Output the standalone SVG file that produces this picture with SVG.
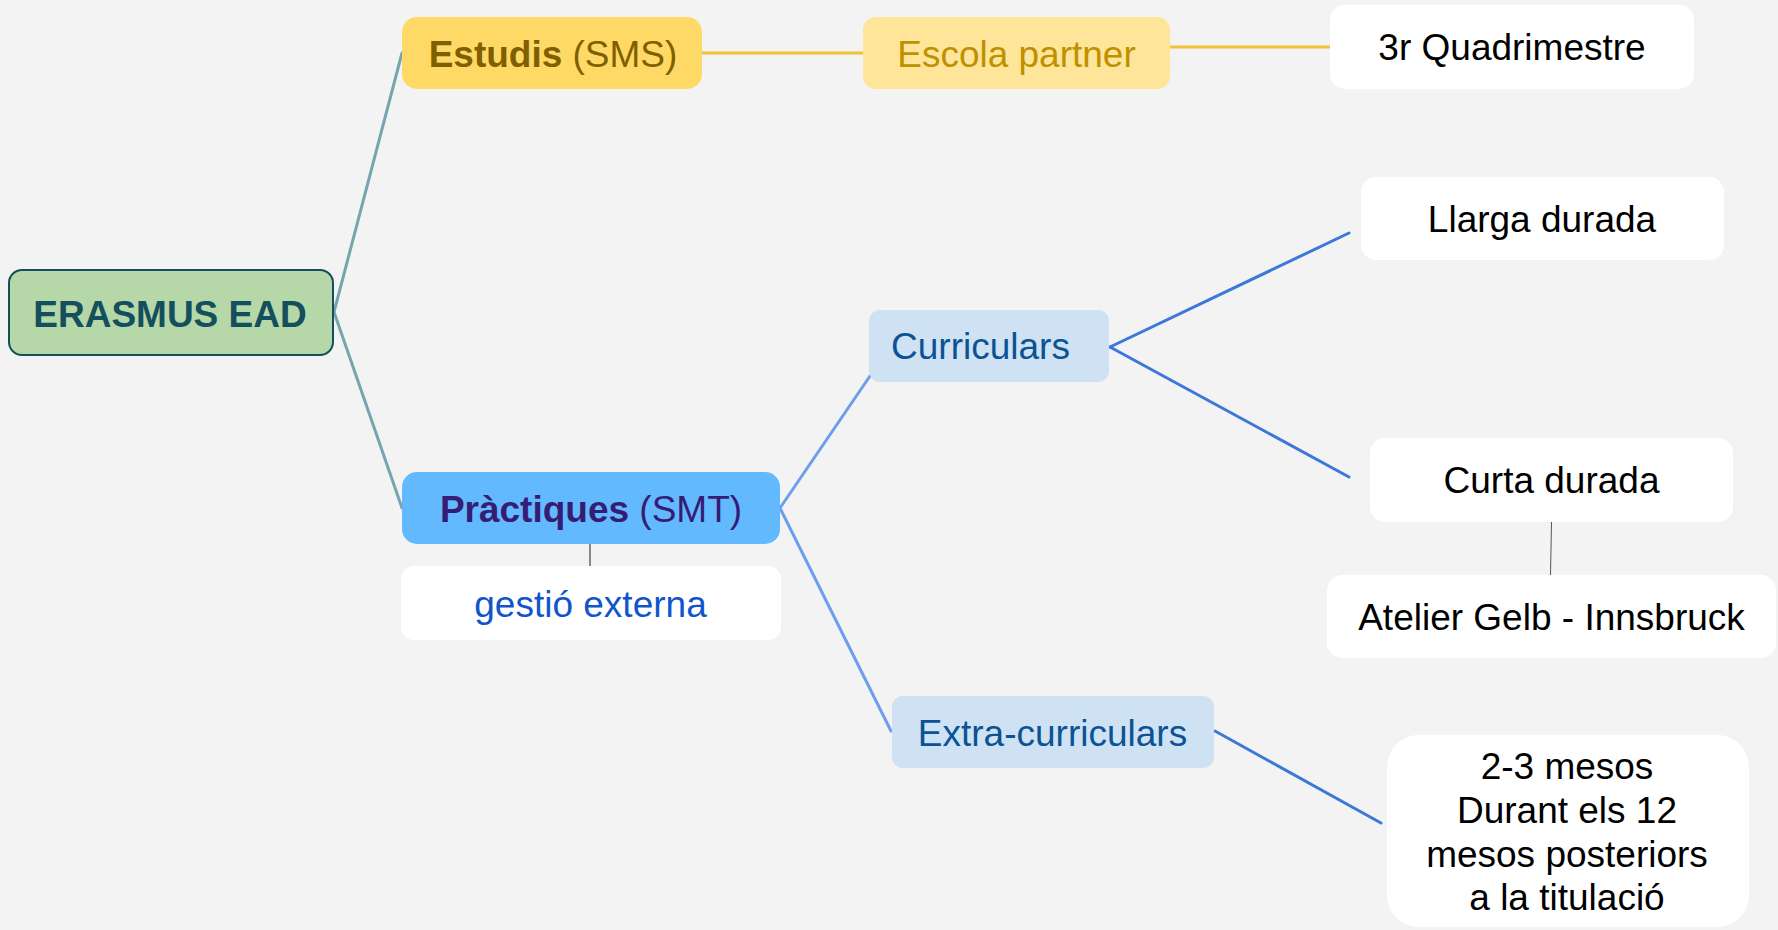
<svg xmlns="http://www.w3.org/2000/svg" width="1778" height="930" viewBox="0 0 1778 930">
<style>
text{font-family:"Liberation Sans",Arial,sans-serif;font-size:37px;text-anchor:middle}
.b{font-weight:bold}
.w{fill:#ffffff}
.k{fill:#000000}
.c{fill:none;stroke-width:3;stroke-linecap:round}
</style>
<rect width="1778" height="930" fill="#f3f3f3"/>
<g id="connectors">
<path class="c" stroke="#76a5af" d="M334,312 L402,53"/>
<path class="c" stroke="#76a5af" d="M334,312 L402,508"/>
<path class="c" stroke="#f1c232" d="M702,53 L863,53"/>
<path class="c" stroke="#f1c232" d="M1170,47 L1330,47"/>
<path class="c" stroke="#6d9eeb" d="M780,508 L870,376"/>
<path class="c" stroke="#6d9eeb" d="M780,508 L891,731"/>
<path class="c" stroke="#3c78d8" d="M1110,347 L1349,233"/>
<path class="c" stroke="#3c78d8" d="M1110,347 L1349,477"/>
<path class="c" stroke="#3c78d8" d="M1215,731 L1381,823"/>
<path fill="none" stroke="#666666" stroke-width="1.5" d="M590,543 L590,566"/>
<path fill="none" stroke="#555555" stroke-width="1" d="M1551.5,522 L1550.5,575"/>
</g>
<g id="erasmus">
<rect x="9" y="270" width="324" height="85" rx="13" fill="#b6d7a8" stroke="#134f5c" stroke-width="2"/>
<text x="170" y="327" class="b" fill="#134f5c">ERASMUS EAD</text>
</g>
<g id="estudis">
<rect x="402" y="17" width="300" height="72" rx="15" fill="#ffd966"/>
<text x="553" y="67" fill="#7f6000"><tspan class="b">Estudis</tspan> (SMS)</text>
</g>
<g id="escola">
<rect x="863" y="17" width="307" height="72" rx="13" fill="#ffe599"/>
<text x="1016.5" y="67" fill="#bf9000">Escola partner</text>
</g>
<g id="quadrimestre">
<rect x="1330" y="5" width="364" height="84" rx="15" class="w"/>
<text x="1512" y="60" class="k">3r Quadrimestre</text>
</g>
<g id="practiques">
<rect x="402" y="472" width="378" height="72" rx="15" fill="#63b9fd"/>
<text x="591" y="522" fill="#351c75"><tspan class="b">Pràctiques</tspan> (SMT)</text>
</g>
<g id="gestio">
<rect x="401" y="566" width="380" height="74" rx="13" class="w"/>
<text x="590.5" y="617" fill="#1155cc">gestió externa</text>
</g>
<g id="curriculars">
<rect x="869" y="310" width="240" height="72" rx="11" fill="#cfe2f3"/>
<text x="980.5" y="359" fill="#0b5394">Curriculars</text>
</g>
<g id="extracurriculars">
<rect x="892" y="696" width="322" height="72" rx="11" fill="#cfe2f3"/>
<text x="1052.5" y="746" fill="#0b5394">Extra-curriculars</text>
</g>
<g id="llarga">
<rect x="1361" y="177" width="363" height="83" rx="15" class="w"/>
<text x="1542" y="232" class="k">Llarga durada</text>
</g>
<g id="curta">
<rect x="1370" y="438" width="363" height="84" rx="15" class="w"/>
<text x="1551.5" y="493" class="k">Curta durada</text>
</g>
<g id="atelier">
<rect x="1327" y="575" width="449" height="83" rx="15" class="w"/>
<text x="1551.5" y="630" class="k">Atelier Gelb - Innsbruck</text>
</g>
<g id="mesos">
<rect x="1387" y="735" width="362" height="192" rx="32" class="w"/>
<text x="1567" y="779" class="k">2-3 mesos</text>
<text x="1567" y="823" class="k">Durant els 12</text>
<text x="1567" y="867" class="k">mesos posteriors</text>
<text x="1567" y="910" class="k">a la titulació</text>
</g>
</svg>
